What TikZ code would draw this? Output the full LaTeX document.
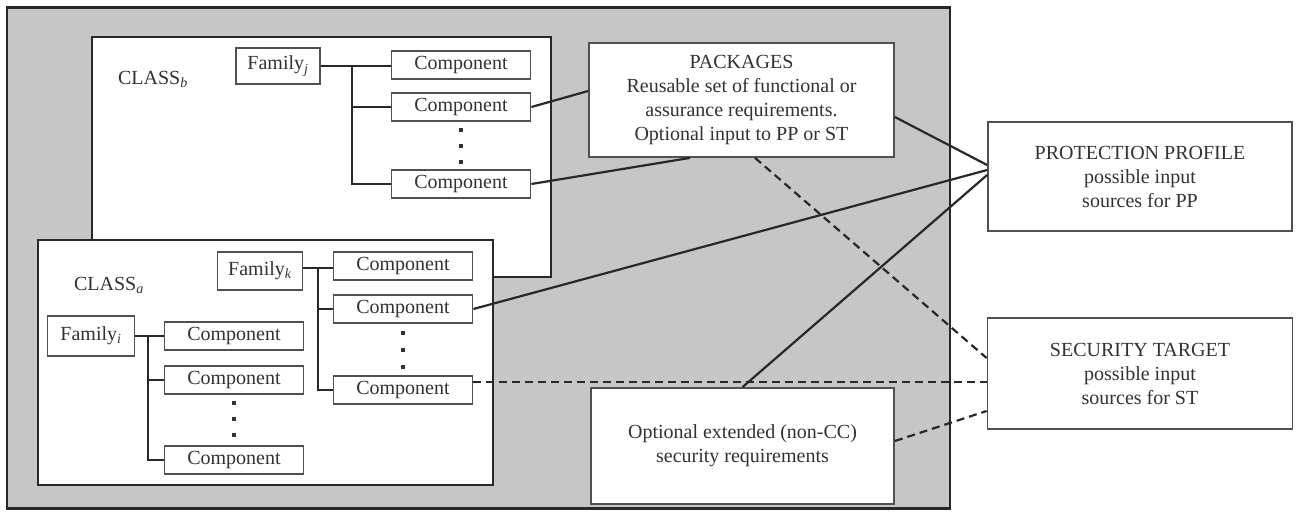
\documentclass[tikz,border=0pt]{standalone}
\usepackage{fontspec}
\setmainfont{Liberation Serif}
\newfontfamily\diagserif{Liberation Serif}
\usetikzlibrary{calc}
\definecolor{bggray}{RGB}{198,198,198}
\definecolor{ink}{RGB}{40,40,40}
\definecolor{boxline}{RGB}{80,80,80}
\definecolor{txt}{RGB}{50,50,50}
\tikzset{
  base/.style={font=\diagserif\fontsize{20}{24}\selectfont, text=txt},
  classbox/.style={draw=ink, line width=2.2pt, fill=white, inner sep=0pt},
  fambox/.style={base, draw=boxline, line width=1.8pt, fill=white, inner sep=0pt, minimum height=36pt},
  compbox/.style={base, draw=boxline, line width=1.8pt, fill=white, inner sep=0pt, minimum width=139pt, minimum height=28pt},
  bigbox/.style={base, draw=boxline, line width=1.8pt, fill=white, inner sep=0pt, align=center},
  tree/.style={draw=ink, line width=2.4pt},
  link/.style={draw=ink, line width=2.2pt},
  dlink/.style={draw=ink, line width=2.2pt, dash pattern=on 8pt off 5pt},
  dotmark/.style={fill=txt, inner sep=0pt, minimum size=3.5pt},
  lbl/.style={base}
}
\begin{document}
\begin{tikzpicture}[x=1pt,y=-1pt]
\useasboundingbox (0,0) rectangle (1296,512);
% gray background panel
\node[draw=ink, line width=2.2pt, fill=bggray, inner sep=0pt, minimum width=943pt, minimum height=501pt] (panel) at (478.5,258) {};
% class boxes
\node[classbox, minimum width=459pt, minimum height=240pt] (classb) at (321.5,157) {};
\node[classbox, minimum width=455pt, minimum height=245pt] (classa) at (265.5,362.5) {};
\node[lbl] (lb) at (153,79) {CLASS\textsubscript{\textit{b}}};
\node[lbl] (la) at (109,285) {CLASS\textsubscript{\textit{a}}};

% top tree
\node[fambox, minimum width=84pt] (famj) at (278,66) {Family\textsubscript{\textit{j}}};
\node[compbox] (c1) at (461,65) {Component};
\node[compbox] (c2) at (461,107) {Component};
\node[compbox] (c3) at (461,184) {Component};
\coordinate (tj) at (352,66);
\draw[tree] (famj.east) -- (tj) -- (c1.west |- tj);
\draw[tree] (tj) |- (c3.west);
\draw[tree] (tj |- c2.west) -- (c2.west);
\node[dotmark] (d1) at (461,130) {};
\node[dotmark] (d2) at (461,146) {};
\node[dotmark] (d3) at (461,162) {};

% bottom right tree
\node[fambox, minimum width=85pt, minimum height=38pt] (famk) at (260,271) {Family\textsubscript{\textit{k}}};
\node[compbox] (ca) at (403,266) {Component};
\node[compbox] (cb) at (403,309) {Component};
\node[compbox] (cc) at (403,390) {Component};
\coordinate (tk) at (318,268);
\draw[tree] (famk.east |- tk) -- (tk) -- (ca.west |- tk);
\draw[tree] (tk) |- (cc.west);
\draw[tree] (tk |- cb.west) -- (cb.west);
\node[dotmark] (d4) at (403,333) {};
\node[dotmark] (d5) at (403,350) {};
\node[dotmark] (d6) at (403,367) {};

% bottom left tree
\node[fambox, minimum width=87pt, minimum height=40pt] (fami) at (91,336) {Family\textsubscript{\textit{i}}};
\node[compbox] (l1) at (234,336) {Component};
\node[compbox] (l2) at (234,380) {Component};
\node[compbox] (l3) at (234,460) {Component};
\coordinate (ti) at (148,336);
\draw[tree] (fami.east) -- (l1.west);
\draw[tree] (ti) |- (l3.west);
\draw[tree] (ti |- l2.west) -- (l2.west);
\node[dotmark] (d7) at (234,403) {};
\node[dotmark] (d8) at (234,419) {};
\node[dotmark] (d9) at (234,435) {};

% big boxes
\node[bigbox, minimum width=305pt, minimum height=114pt] (pkg) at (741.5,100)
  {PACKAGES\\Reusable set of functional or\\assurance requirements.\\Optional input to PP or ST};
\node[bigbox, minimum width=304pt, minimum height=109pt] (pp) at (1140,176.5)
  {PROTECTION PROFILE\\possible input\\sources for PP};
\node[bigbox, minimum width=305pt, minimum height=111pt] (st) at (1140,373.5)
  {SECURITY TARGET\\possible input\\sources for ST};
\node[bigbox, minimum width=303pt, minimum height=116pt] (opt) at (742.5,446)
  {Optional extended (non-CC)\\security requirements};

% connectors
\draw[link] (c2.east) -- ([yshift=9pt]pkg.west);
\draw[link] (c3.east) -- ([xshift=-51.5pt]pkg.south);
\draw[link] ([yshift=-17pt]pkg.east) -- ([yshift=11.5pt]pp.west);
\draw[link] (cb.east) -- ([yshift=6.5pt]pp.west);
\draw[link] (opt.north) -- ([yshift=1.5pt]pp.west);
\draw[dlink] ([xshift=13.5pt]pkg.south) -- ([yshift=15.5pt]st.west);
\coordinate (ccx) at ([yshift=8pt]cc.east);
\draw[dlink] (ccx) -- (ccx -| st.west);
\draw[dlink] ([yshift=5pt]opt.east) -- ([yshift=-37.5pt]st.west);
\end{tikzpicture}
\end{document}
